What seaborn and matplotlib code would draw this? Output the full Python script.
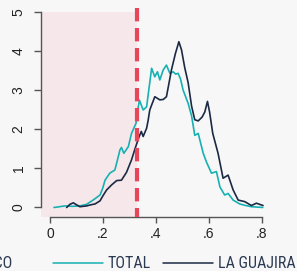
import numpy as np
import pandas as pd
import matplotlib
matplotlib.use("Agg")
import matplotlib.pyplot as plt
from matplotlib import font_manager
import seaborn as sns

# Density estimates
total_x = [0.015, 0.057, 0.085, 0.113, 0.138, 0.163, 0.189, 0.199, 0.208, 0.226,
           0.245, 0.255, 0.264, 0.270, 0.279, 0.296, 0.308, 0.325, 0.330, 0.338,
           0.352, 0.365, 0.375, 0.384, 0.396, 0.406, 0.415, 0.428, 0.440, 0.453,
           0.465, 0.475, 0.484, 0.493, 0.503, 0.522, 0.535, 0.547, 0.560, 0.579,
           0.591, 0.610, 0.629, 0.642, 0.660, 0.673, 0.692, 0.717, 0.740, 0.761,
           0.804]
total_y = [0.00, 0.04, 0.03, 0.04, 0.08, 0.19, 0.32, 0.49, 0.70, 0.88,
           0.96, 1.22, 1.47, 1.54, 1.39, 1.56, 1.90, 2.16, 2.45, 2.75,
           2.50, 2.58, 3.10, 3.57, 3.35, 3.48, 3.27, 3.53, 3.65, 3.44,
           3.48, 3.42, 3.44, 3.30, 3.01, 2.67, 2.35, 1.85, 1.90, 1.39,
           1.17, 0.88, 0.92, 0.53, 0.32, 0.36, 0.19, 0.09, 0.05, 0.02,
           0.00]

guajira_x = [0.063, 0.075, 0.088, 0.100, 0.113, 0.138, 0.155, 0.170, 0.189, 0.200,
             0.214, 0.233, 0.252, 0.270, 0.289, 0.308, 0.321, 0.337, 0.345, 0.352,
             0.365, 0.371, 0.377, 0.396, 0.415, 0.428, 0.440, 0.450, 0.459, 0.474,
             0.487, 0.497, 0.509, 0.522, 0.535, 0.547, 0.560, 0.575, 0.585, 0.595,
             0.603, 0.615, 0.635, 0.654, 0.673, 0.692, 0.711, 0.736, 0.761, 0.780,
             0.805]
guajira_y = [0.00, 0.08, 0.12, 0.07, 0.02, 0.04, 0.07, 0.09, 0.17, 0.30,
             0.45, 0.58, 0.69, 0.70, 0.90, 1.22, 1.50, 1.82, 1.95, 1.82,
             2.03, 2.24, 2.50, 2.84, 2.76, 2.77, 2.84, 3.20, 3.53, 3.95,
             4.25, 4.04, 3.59, 3.20, 2.60, 2.25, 2.22, 2.32, 2.45, 2.72,
             2.45, 1.90, 1.39, 0.75, 0.83, 0.45, 0.19, 0.15, 0.05, 0.11,
             0.05]

threshold = 0.33
x_ticks = [0, 0.2, 0.4, 0.6, 0.8]
x_tick_labels = ["0", ".2", ".4", ".6", ".8"]
y_ticks = [0, 1, 2, 3, 4, 5]
legend_labels = ["UMBRAL CRÍTICO", "TOTAL", "LA GUAJIRA"]

BG = "#f7f7f7"
TEAL = "#17b0b3"
NAVY = "#1b2a44"
RED = "#e8455b"
SHADE = "#f6e8ea"
LEG_TXT = "#2b3a52"


def pick_legend_font():
    # look for a narrow face; otherwise shrink a regular one
    fonts = font_manager.fontManager.ttflist
    names = {f.name for f in fonts}
    for name in ["Liberation Sans Narrow", "Roboto Condensed", "Open Sans Condensed",
                 "Noto Sans Condensed", "DejaVu Sans Condensed"]:
        if name in names:
            return {"family": [name, "DejaVu Sans"], "size": 11.5}
    for f in fonts:
        if f.name in ("DejaVu Sans", "Noto Sans", "Open Sans") and f.stretch == "condensed" \
                and f.weight in (400, "normal", "regular"):
            return {"family": [f.name, "DejaVu Sans"], "size": 11.5, "stretch": "condensed"}
    return {"family": ["Roboto", "DejaVu Sans"], "size": 10.5}


sns.set_style("ticks", {"axes.facecolor": BG, "figure.facecolor": BG})
plt.rcParams["font.family"] = ["Liberation Sans", "DejaVu Sans"]

fig = plt.figure(figsize=(2.97, 2.71), dpi=100)
ax = fig.add_axes([41 / 297, 1 - 217 / 271, 226 / 297, 209 / 271])

xlo, xhi = -0.034, 0.82
ylo, yhi = -0.244, 5.115

# shaded zone left of the threshold
ax.fill_between([xlo, threshold], ylo, 5, color=SHADE, lw=0, zorder=0)

df_total = pd.DataFrame({"x": total_x, "y": total_y})
df_guaj = pd.DataFrame({"x": guajira_x, "y": guajira_y})
sns.lineplot(data=df_total, x="x", y="y", color=TEAL, lw=1.2, estimator=None, ax=ax, zorder=3)
sns.lineplot(data=df_guaj, x="x", y="y", color=NAVY, lw=1.2, estimator=None, ax=ax, zorder=4)

# dashed threshold, pattern starting from the top
ax.plot([threshold, threshold], [1, 0], transform=ax.get_xaxis_transform(),
        color=RED, lw=3.0, dashes=(3.2, 1.6), solid_capstyle="butt", zorder=5)

ax.set_xlim(xlo, xhi)
ax.set_ylim(ylo, yhi)
ax.set_xticks(x_ticks)
ax.set_xticklabels(x_tick_labels)
ax.set_yticks(y_ticks)
ax.set_yticklabels([str(v) for v in y_ticks], rotation=90, va="center")
ax.set_xlabel("")
ax.set_ylabel("")

for s in ["top", "right"]:
    ax.spines[s].set_visible(False)
ax.spines["left"].set_bounds(0, 5)
ax.spines["bottom"].set_bounds(0, 0.8)
for s in ["left", "bottom"]:
    ax.spines[s].set_color("#555555")
    ax.spines[s].set_linewidth(1.0)
ax.tick_params(axis="y", length=5, width=1.0, color="#555555", pad=6, labelsize=10, labelcolor="#222222")
ax.tick_params(axis="x", length=4.5, width=1.0, color="#555555", pad=3, labelsize=10, labelcolor="#222222")

# legend (first entry runs off the left edge)
leg_font = pick_legend_font()
prop = font_manager.FontProperties(**leg_font)
fig.text(12 / 297, 1 - 264 / 271, legend_labels[0], ha="right", va="center",
         color=LEG_TXT, fontproperties=prop)
handles = [plt.Line2D([], [], color=TEAL, lw=1.1), plt.Line2D([], [], color=NAVY, lw=1.1)]
leg = fig.legend(handles, legend_labels[1:], ncol=2, loc="center left",
                 bbox_to_anchor=(53 / 297, 1 - 264 / 271), frameon=False,
                 borderpad=0, borderaxespad=0, handlelength=3.1, handletextpad=0.33,
                 columnspacing=0.75, prop=prop)
for t in leg.get_texts():
    t.set_color(LEG_TXT)

fig.savefig("out.png", dpi=100, facecolor=BG)
